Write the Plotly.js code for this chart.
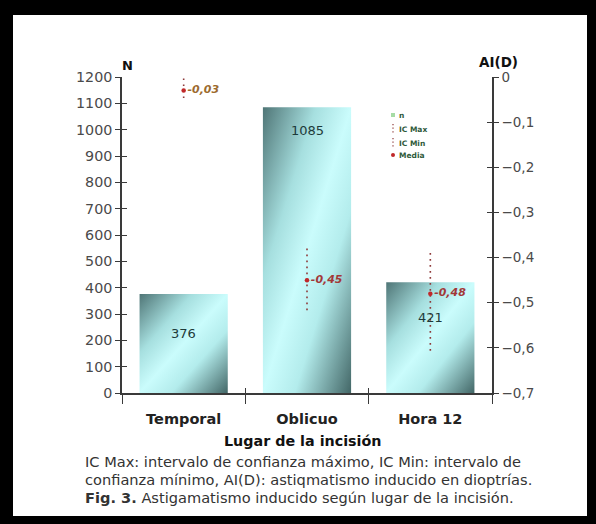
<!DOCTYPE html>
<html>
<head>
<meta charset="utf-8">
<script src="https://cdn.plot.ly/plotly-3.0.1.min.js"></script>
<style>
  html, body { margin: 0; padding: 0; background: #fff; }
  #wrap { position: relative; width: 596px; height: 524px; }
  #chart { position: absolute; left: 0; top: 0; width: 596px; height: 524px; }
  #frame { position: absolute; left: 0; top: 0; width: 596px; height: 524px; box-sizing: border-box;
           border-style: solid; border-color: #000; border-width: 15px 9px 8px 13px; pointer-events: none; }
</style>
</head>
<body>
<div id="wrap"><div id="chart"></div><div id="frame"></div></div>
<script>
// ---- data ----
const categories = ['Temporal', 'Oblicuo', 'Hora 12'];
const nValues = [376, 1085, 421];
const aiMean = [-0.03, -0.45, -0.48];
const icMax = [0.01, -0.38, -0.39];
const icMin = [-0.05, -0.52, -0.61];
const legendLabels = ['n', 'IC Max', 'IC Min', 'Media'];
const xTitle = 'Lugar de la incisión';
const yLeftTitle = 'N';
const yRightTitle = 'AI(D)';
const captionLines = [
  'IC Max: intervalo de confianza máximo, IC Min: intervalo de',
  'confianza mínimo, AI(D): astiqmatismo inducido en dioptrías.',
  '<b>Fig. 3.</b> Astigamatismo inducido según lugar de la incisión.'
];

// ---- layout geometry ----
const W = 596, H = 524;
const M = { l: 122, r: 104, t: 77, b: 131 };
const PW = W - M.l - M.r, PH = H - M.t - M.b;
const px = x => (x - M.l) / PW;
const py = y => (H - M.b - y) / PH;
const FONT = 'DejaVu Sans, Verdana, sans-serif';
const axisColor = '#3a3a3a';

// IC lines built from data
const icX = [], icY = [];
categories.forEach((c, i) => { icX.push(c, c, null); icY.push(icMax[i], icMin[i], null); });
const meanText = aiMean.map(v => v.toFixed(2).replace('.', ','));
const meanColors = ['#9c6a2e', '#a23838', '#a23838'];

const traces = [
  { type: 'bar', x: categories, y: nValues, xaxis: 'x', yaxis: 'y',
    marker: { color: '#a8e4e4', line: { width: 0 } }, hoverinfo: 'x+y', showlegend: false },
  { type: 'scatter', mode: 'lines', x: icX, y: icY, xaxis: 'x', yaxis: 'y2',
    line: { color: '#8e3a3a', width: 1.6, dash: '1.6px,4.4px' }, cliponaxis: false,
    hoverinfo: 'skip', showlegend: false },
  { type: 'scatter', mode: 'markers+text', x: categories, y: aiMean, xaxis: 'x', yaxis: 'y2',
    marker: { color: '#c0282a', size: 4.5 }, text: meanText, textposition: 'middle right',
    textfont: { family: FONT, size: 11, color: meanColors, weight: 'bold', style: 'italic' },
    cliponaxis: false, showlegend: false },
  // helper traces for the inner halves of the crossing ticks
  { type: 'scatter', mode: 'markers', x: categories, y: [null, null, null], xaxis: 'x2', yaxis: 'y3',
    hoverinfo: 'skip', showlegend: false },
  { type: 'scatter', mode: 'markers', x: categories, y: [null, null, null], xaxis: 'x', yaxis: 'y4',
    hoverinfo: 'skip', showlegend: false }
];

const annotations = [];
// bar value labels
const labelShift = [-40, -23, -35];
categories.forEach((c, i) => {
  annotations.push({ x: c, y: nValues[i], xref: 'x', yref: 'y', xanchor: 'center', yanchor: 'middle',
    text: String(nValues[i]), showarrow: false, yshift: labelShift[i],
    font: { family: FONT, size: 13, color: '#1d3a3a' } });
});
// axis titles
annotations.push({ xref: 'paper', yref: 'paper', x: px(127), y: py(65), xanchor: 'center', yanchor: 'middle',
  text: '<b>' + yLeftTitle + '</b>', showarrow: false, font: { family: FONT, size: 13, color: '#111' } });
annotations.push({ xref: 'paper', yref: 'paper', x: px(498), y: py(62), xanchor: 'center', yanchor: 'middle',
  text: '<b>' + yRightTitle + '</b>', showarrow: false, font: { family: FONT, size: 13.5, color: '#111' } });
annotations.push({ xref: 'paper', yref: 'paper', x: px(303), y: py(441), xanchor: 'center', yanchor: 'middle',
  text: '<b>' + xTitle + '</b>', showarrow: false, font: { family: FONT, size: 14.3, color: '#111' } });
// caption
const capY = [461, 479, 497];
captionLines.forEach((t, i) => {
  annotations.push({ xref: 'paper', yref: 'paper', x: px(83), y: py(capY[i]), xanchor: 'left', yanchor: 'middle',
    text: t, showarrow: false, font: { family: FONT, size: 14.6, color: '#333' } });
});
// legend text
const legY = [115, 129, 143, 155];
legendLabels.forEach((t, i) => {
  annotations.push({ xref: 'paper', yref: 'paper', x: px(397), y: py(legY[i]), xanchor: 'left', yanchor: 'middle',
    text: '<b>' + t + '</b>', showarrow: false, font: { family: FONT, size: 7.5, color: '#2f5a3a' } });
});

const shapes = [
  { type: 'rect', xref: 'paper', yref: 'paper', x0: px(391), x1: px(395), y0: py(117), y1: py(113),
    fillcolor: '#a6dca6', line: { width: 0 } },
  { type: 'line', xref: 'paper', yref: 'paper', x0: px(393), x1: px(393), y0: py(124), y1: py(133),
    line: { color: '#8e3a3a', width: 1.2, dash: '1.2px,2.4px' } },
  { type: 'line', xref: 'paper', yref: 'paper', x0: px(393), x1: px(393), y0: py(138), y1: py(147),
    line: { color: '#8e3a3a', width: 1.2, dash: '1.2px,2.4px' } },
  { type: 'circle', xref: 'paper', yref: 'paper', x0: px(391), x1: px(395), y0: py(157), y1: py(153),
    fillcolor: '#c0282a', line: { width: 0 } }
];

const layout = {
  width: W, height: H,
  margin: M,
  paper_bgcolor: '#fff', plot_bgcolor: 'rgba(0,0,0,0)',
  separators: ',.',
  font: { family: FONT },
  bargap: 0.285,
  showlegend: false,
  xaxis: { type: 'category', range: [-0.5, 2.5], tickson: 'boundaries', ticks: 'outside', ticklen: 9,
    tickwidth: 1.2, tickcolor: axisColor, showline: true, linecolor: axisColor, linewidth: 1.5,
    showgrid: false, zeroline: false, ticklabelstandoff: 12,
    tickfont: { family: FONT, size: 14.5, color: '#222', weight: 'bold' }, fixedrange: true },
  xaxis2: { type: 'category', overlaying: 'x', range: [-0.5, 2.5], tickson: 'boundaries', ticks: 'inside',
    ticklen: 5, tickwidth: 1.2, tickcolor: axisColor, showline: false, showgrid: false, zeroline: false,
    showticklabels: false, side: 'bottom', anchor: 'y3' },
  yaxis: { range: [0, 1200], dtick: 100, tick0: 0, ticks: 'outside', ticklen: 5, tickwidth: 1.2,
    tickcolor: axisColor, showline: true, linecolor: axisColor, linewidth: 1.5, showgrid: false,
    zeroline: false, tickfont: { family: FONT, size: 14.3, color: '#4a4a4a' }, fixedrange: true },
  yaxis3: { overlaying: 'y', side: 'left', range: [0, 1200], dtick: 100, tick0: 0, ticks: 'inside', ticklen: 5,
    tickwidth: 1.2, tickcolor: axisColor, showline: false, showgrid: false, zeroline: false,
    showticklabels: false, anchor: 'x2' },
  yaxis2: { overlaying: 'y', side: 'right', range: [-0.7, 0], dtick: 0.1, tick0: 0, ticks: 'outside',
    ticklen: 5, tickwidth: 1.2, tickcolor: axisColor, showline: true, linecolor: axisColor, linewidth: 1.5,
    showgrid: false, zeroline: false, tickfont: { family: FONT, size: 13.5, color: '#4a4a4a' }, fixedrange: true },
  yaxis4: { overlaying: 'y', side: 'right', range: [-0.7, 0], dtick: 0.1, tick0: 0, ticks: 'inside',
    ticklen: 5, tickwidth: 1.2, tickcolor: axisColor, showline: false, showgrid: false, zeroline: false,
    showticklabels: false },
  annotations: annotations,
  shapes: shapes
};

function applyGradient(gd) {
  const svg = gd.querySelector('svg.main-svg');
  if (!svg) return;
  const NS = 'http://www.w3.org/2000/svg';
  if (!document.getElementById('barGrad')) {
    let defs = svg.querySelector('defs');
    if (!defs) { defs = document.createElementNS(NS, 'defs'); svg.insertBefore(defs, svg.firstChild); }
    const g = document.createElementNS(NS, 'linearGradient');
    g.setAttribute('id', 'barGrad');
    g.setAttribute('x1', '0'); g.setAttribute('y1', '0'); g.setAttribute('x2', '1'); g.setAttribute('y2', '1');
    [[0, '#4f7576'], [0.3, '#a6dfdf'], [0.5, '#cafcfc'], [0.68, '#b3ecec'], [1, '#436767']].forEach(s => {
      const st = document.createElementNS(NS, 'stop');
      st.setAttribute('offset', s[0]); st.setAttribute('stop-color', s[1]);
      g.appendChild(st);
    });
    defs.appendChild(g);
  }
  gd.querySelectorAll('.barlayer .point path').forEach(p => { p.style.fill = 'url(#barGrad)'; });
}

const gd = document.getElementById('chart');
Plotly.newPlot(gd, traces, layout, { displayModeBar: false }).then(() => {
  applyGradient(gd);
  gd.on('plotly_afterplot', () => applyGradient(gd));
});
</script>
</body>
</html>
